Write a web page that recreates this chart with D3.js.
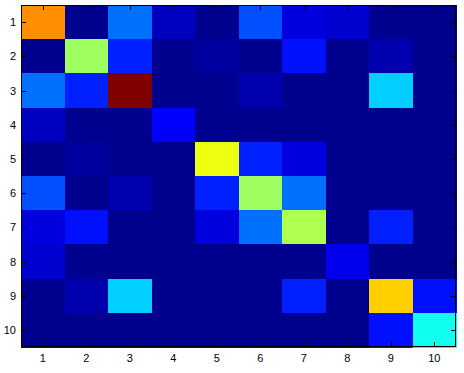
<!DOCTYPE html>
<html>
<head>
<meta charset="utf-8">
<script src="https://cdn.jsdelivr.net/npm/d3@7"></script>
<style>
html,body{margin:0;padding:0;background:#fff;}
svg{display:block;}
text{font-family:"Liberation Sans",Arial,Helvetica,sans-serif;font-size:11px;fill:#000;}
</style>
</head>
<body>
<svg id="chart" width="464" height="373"></svg>
<script>
// Categories (row/column labels)
const rowLabels = ["1","2","3","4","5","6","7","8","9","10"];
const colLabels = ["1","2","3","4","5","6","7","8","9","10"];
// Cell values (colormap index scale, 1..64), one array per row
const row1  = [47, 1, 15, 4, 1, 13, 6, 5, 1, 1];
const row2  = [1, 34, 10, 1, 2, 1, 9, 1, 3, 1];
const row3  = [15, 10, 64, 1, 1, 3, 1, 1, 21, 1];
const row4  = [4, 1, 1, 8, 1, 1, 1, 1, 1, 1];
const row5  = [1, 2, 1, 1, 39, 10, 6, 1, 1, 1];
const row6  = [13, 1, 3, 1, 10, 34, 15, 1, 1, 1];
const row7  = [6, 9, 1, 1, 6, 15, 35, 1, 10, 1];
const row8  = [5, 1, 1, 1, 1, 1, 1, 7, 1, 1];
const row9  = [1, 3, 21, 1, 1, 1, 10, 1, 43, 9];
const row10 = [1, 1, 1, 1, 1, 1, 1, 1, 9, 25];
const values = [row1,row2,row3,row4,row5,row6,row7,row8,row9,row10];

// MATLAB jet(64)
function jet(m){
  const n = Math.ceil(m/4);
  const u = [];
  for(let i=1;i<=n;i++) u.push(i/n);
  for(let i=1;i<n;i++) u.push(1);
  for(let i=n;i>=1;i--) u.push(i/n);
  const gOff = Math.ceil(n/2) - (m%4===1?1:0);
  const J = Array.from({length:m},()=>[0,0,0]);
  u.forEach((v,i)=>{
    const g = gOff + i + 1, r = g + n, b = g - n;
    if(r<=m) J[r-1][0]=v;
    if(g<=m) J[g-1][1]=v;
    if(b>=1) J[b-1][2]=v;
  });
  return J.map(c=>d3.rgb(c[0]*255,c[1]*255,c[2]*255).formatHex());
}
const colors = jet(64);
const color = d3.scaleQuantize().domain([0.5,64.5]).range(colors);

const svg = d3.select("#chart");
const L=21, T=5, R=456, B=347;
const x = d3.scaleBand().domain(colLabels).range([L,R]).padding(0);
const y = d3.scaleBand().domain(rowLabels).range([T,B]).padding(0);

const cells = [];
values.forEach((row,i)=>row.forEach((v,j)=>cells.push({r:rowLabels[i],c:colLabels[j],v})));
svg.append("g").selectAll("rect").data(cells).join("rect")
  .attr("x",d=>x(d.c)).attr("y",d=>y(d.r))
  .attr("width",x.bandwidth()+0.5).attr("height",y.bandwidth()+0.5)
  .attr("fill",d=>color(d.v)).attr("shape-rendering","crispEdges");

// box
svg.append("rect").attr("x",L+0.5).attr("y",T+0.5).attr("width",R-L-1).attr("height",B-T-1)
  .attr("fill","none").attr("stroke","#000").attr("stroke-width",1).attr("shape-rendering","crispEdges");

const tl = 5;
const centerX = d=>Math.round(x(d)+x.bandwidth()/2)+0.5;
const centerY = d=>Math.round(y(d)+y.bandwidth()/2)+0.5;
const ticks = svg.append("g").attr("stroke","#000").attr("stroke-width",1);
colLabels.forEach(d=>{
  ticks.append("line").attr("x1",centerX(d)).attr("x2",centerX(d)).attr("y1",B).attr("y2",B-tl);
  ticks.append("line").attr("x1",centerX(d)).attr("x2",centerX(d)).attr("y1",T).attr("y2",T+tl);
});
rowLabels.forEach(d=>{
  ticks.append("line").attr("y1",centerY(d)).attr("y2",centerY(d)).attr("x1",L).attr("x2",L+tl);
  ticks.append("line").attr("y1",centerY(d)).attr("y2",centerY(d)).attr("x1",R).attr("x2",R-tl);
});

svg.append("g").selectAll("text").data(colLabels).join("text")
  .attr("x",d=>x(d)+x.bandwidth()/2).attr("y",362)
  .attr("text-anchor","middle").text(d=>d);
svg.append("g").selectAll("text").data(rowLabels).join("text")
  .attr("x",16).attr("y",d=>y(d)+y.bandwidth()/2+4)
  .attr("text-anchor","end").text(d=>d);
</script>
</body>
</html>
